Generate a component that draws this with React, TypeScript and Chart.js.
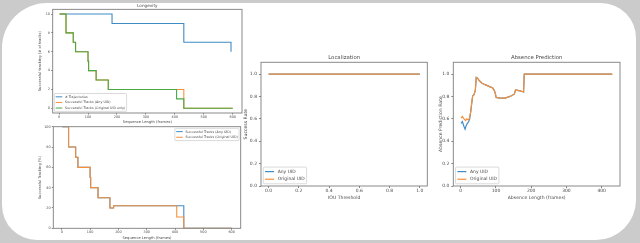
import React, { useEffect, useRef } from 'react';
import { Chart, registerables } from 'chart.js';

Chart.register(...registerables);

// ---------- Longevity (number of tracks) ----------
const trajX = [2, 183, 431, 594];
const trajY = [10, 9, 7, 6];
const anyCountX = [2, 24, 49, 57, 100, 102, 128, 170, 431, 600];
const anyCountY = [10, 8, 7, 6, 5, 4, 3, 2, 0, 0];
const origCountX = [2, 24, 49, 57, 100, 102, 128, 170, 406, 431, 600];
const origCountY = [10, 8, 7, 6, 5, 4, 3, 2, 1, 0, 0];
const seqXTicks = [0, 100, 200, 300, 400, 500, 600];
const countYTicks = [0, 2, 4, 6, 8, 10];

// ---------- Successful tracking (%) ----------
const anyPctX = [2, 24, 49, 57, 100, 102, 128, 170, 183, 431, 600];
const anyPctY = [100, 80, 70, 60, 50, 40, 30, 20, 22.2, 0, 0];
const origPctX = [2, 24, 49, 57, 100, 102, 128, 170, 183, 406, 431, 600];
const origPctY = [100, 80, 70, 60, 50, 40, 30, 20, 22.2, 11.1, 0, 0];
const pctYTicks = [0, 20, 40, 60, 80, 100];

// ---------- Localization ----------
const iouThresholds = [0.0, 0.1, 0.2, 0.3, 0.4, 0.5, 0.6, 0.7, 0.8, 0.9, 1.0];
const locAnyRate = [1.0, 1.0, 1.0, 1.0, 1.0, 1.0, 1.0, 1.0, 1.0, 1.0, 1.0];
const locOrigRate = [1.0, 1.0, 1.0, 1.0, 1.0, 1.0, 1.0, 1.0, 1.0, 1.0, 1.0];
const iouXTicks = [0.0, 0.2, 0.4, 0.6, 0.8, 1.0];
const rateYTicks = [0.0, 0.2, 0.4, 0.6, 0.8, 1.0];

// ---------- Absence Prediction ----------
const absOrigX = [1, 4.7, 9.4, 14, 17, 21.7, 24.6, 28.5, 31.3, 34, 38, 41.7, 44, 47.4, 53, 59.7, 69.2, 83.5, 91, 95.8, 98.7, 100.6, 112, 126, 140, 152, 155.6, 169, 178.4, 180.3, 430];
const absOrigY = [0.606, 0.62, 0.6, 0.585, 0.6, 0.59, 0.605, 0.665, 0.74, 0.805, 0.815, 0.86, 0.97, 0.965, 0.94, 0.92, 0.905, 0.885, 0.875, 0.85, 0.82, 0.79, 0.785, 0.785, 0.8, 0.82, 0.857, 0.85, 0.84, 1.0, 1.0];
const absAnyX = [1, 4.7, 9.4, 12.3, 15.1, 18.9, 22.7, 25.5, 28.5, 31.3, 34, 38, 41.7, 44, 47.4, 53, 59.7, 69.2, 83.5, 91, 95.8, 98.7, 100.6, 112, 126, 140, 152, 155.6, 169, 178.4, 180.3, 430];
const absAnyY = [0.56, 0.576, 0.53, 0.508, 0.537, 0.56, 0.576, 0.6, 0.665, 0.74, 0.805, 0.815, 0.86, 0.97, 0.965, 0.94, 0.92, 0.905, 0.885, 0.875, 0.85, 0.82, 0.79, 0.785, 0.785, 0.8, 0.82, 0.857, 0.85, 0.84, 1.0, 1.0];
const absXTicks = [0, 100, 200, 300, 400];

const BLUE = '#3f8bc4';
const ORANGE = '#f78f3a';
const GREEN = '#48aa44';
const TXT = '#4a4a4a';
const FONT = '"DejaVu Sans", sans-serif';
const W = 640;
const H = 243;

const pts = (xs: number[], ys: number[]) => xs.map((x, i) => ({ x, y: ys[i] }));

const framePlugin = {
  id: 'frame',
  afterDatasetsDraw(chart: any) {
    const { ctx, chartArea: a } = chart;
    ctx.save();
    ctx.strokeStyle = '#7d7d7d';
    ctx.lineWidth = 0.9;
    ctx.strokeRect(a.left, a.top, a.right - a.left, a.bottom - a.top);
    ctx.restore();
  },
};

const mplLegendPlugin = {
  id: 'mplLegend',
  afterDraw(chart: any, _args: any, opts: any) {
    if (!opts || !opts.loc) return;
    const { ctx, chartArea: a } = chart;
    const fs = opts.fontSize;
    ctx.save();
    ctx.font = `${fs}px ${FONT}`;
    const items = chart.data.datasets.map((d: any) => ({ label: d.label, color: d.borderColor }));
    const pad = 0.4 * fs;
    const handle = 2 * fs;
    const gap = 0.8 * fs;
    const rowH = 1.2 * fs;
    const spacing = 0.5 * fs;
    const axpad = 0.5 * fs;
    const textW = Math.max(...items.map((i: any) => ctx.measureText(i.label).width));
    const w = pad * 2 + handle + gap + textW;
    const h = pad * 2 + items.length * rowH + (items.length - 1) * spacing;
    const x = opts.loc.includes('left') ? a.left + axpad : a.right - axpad - w;
    const y = opts.loc.includes('lower') ? a.bottom - axpad - h : a.top + axpad;
    const r = 0.2 * fs;
    ctx.beginPath();
    ctx.moveTo(x + r, y);
    ctx.arcTo(x + w, y, x + w, y + h, r);
    ctx.arcTo(x + w, y + h, x, y + h, r);
    ctx.arcTo(x, y + h, x, y, r);
    ctx.arcTo(x, y, x + w, y, r);
    ctx.closePath();
    ctx.fillStyle = 'rgba(255,255,255,0.8)';
    ctx.fill();
    ctx.strokeStyle = '#cccccc';
    ctx.lineWidth = 0.7;
    ctx.stroke();
    items.forEach((it: any, i: number) => {
      const cy = y + pad + i * (rowH + spacing) + rowH / 2;
      ctx.beginPath();
      ctx.strokeStyle = it.color;
      ctx.lineWidth = opts.lineWidth || 1;
      ctx.moveTo(x + pad, cy);
      ctx.lineTo(x + pad + handle, cy);
      ctx.stroke();
      ctx.fillStyle = TXT;
      ctx.textBaseline = 'middle';
      ctx.textAlign = 'left';
      ctx.fillText(it.label, x + pad + handle + gap, cy);
    });
    ctx.restore();
  },
};

function axis(o: {
  min: number; max: number; ticks: number[]; fmt: (v: number) => string; title: string;
  fs: number; tfs: number; size: number; tickLen: number; pad: number;
}) {
  return {
    type: 'linear',
    min: o.min,
    max: o.max,
    afterBuildTicks: (s: any) => {
      s.ticks = o.ticks.map((v) => ({ value: v }));
    },
    afterFit: (s: any) => {
      if (s.isHorizontal()) s.height = o.size;
      else s.width = o.size;
    },
    ticks: {
      autoSkip: false,
      maxRotation: 0,
      minRotation: 0,
      padding: o.pad,
      color: TXT,
      font: { family: FONT, size: o.fs },
      callback: (v: any) => o.fmt(Number(v)),
    },
    grid: {
      display: true,
      drawOnChartArea: false,
      drawTicks: true,
      tickLength: o.tickLen,
      tickColor: '#666666',
      tickWidth: 0.8,
    },
    border: { display: false },
    title: {
      display: true,
      text: o.title,
      color: TXT,
      font: { family: FONT, size: o.tfs },
      padding: 0,
    },
  };
}

function lineDs(label: string, data: any[], color: string, order: number, stepped: boolean, bw: number) {
  return {
    label,
    data,
    borderColor: color,
    backgroundColor: color,
    borderWidth: bw,
    pointRadius: 0,
    tension: 0,
    fill: false,
    stepped,
    order,
  };
}

function baseOptions(padding: any, scales: any, title: any, legend: any) {
  return {
    animation: false,
    responsive: false,
    maintainAspectRatio: false,
    events: [],
    layout: { padding },
    scales,
    plugins: {
      legend: { display: false },
      tooltip: { enabled: false },
      title: title
        ? {
            display: true,
            text: title.text,
            fullSize: false,
            color: TXT,
            font: { family: FONT, size: title.size, weight: 'normal' },
            padding: { top: 0, bottom: title.bottom },
          }
        : { display: false },
      mplLegend: legend,
    },
  };
}

const intFmt = (v: number) => String(Math.round(v));
const oneDec = (v: number) => v.toFixed(1);

function longevityConfig() {
  return {
    type: 'line',
    data: {
      datasets: [
        lineDs('# Trajectories', pts(trajX, trajY), BLUE, 3, true, 1.1),
        lineDs('Successful Tracks (Any UID)', pts(anyCountX, anyCountY), ORANGE, 2, true, 1.1),
        lineDs('Successful Tracks (Original UID only)', pts(origCountX, origCountY), GREEN, 1, true, 1.1),
      ],
    },
    options: baseOptions(
      { left: 37.8, top: 3.5, right: W - 242, bottom: H - 123.9 },
      {
        x: axis({ min: -22, max: 632, ticks: seqXTicks, fmt: intFmt, title: 'Sequence Length (frames)', fs: 3.4, tfs: 3.7, size: 10.9, tickLen: 1.5, pad: 0.7 }),
        y: axis({ min: -0.5, max: 10.5, ticks: countYTicks, fmt: intFmt, title: 'Successful tracking (# of tracks)', fs: 3.4, tfs: 3.7, size: 14.9, tickLen: 1.5, pad: 1.2 }),
      },
      { text: 'Longevity', size: 4.2, bottom: 0.8 },
      { loc: 'lower left', fontSize: 3.3, lineWidth: 1 }
    ),
    plugins: [framePlugin, mplLegendPlugin],
  };
}

function percentConfig() {
  return {
    type: 'line',
    data: {
      datasets: [
        lineDs('Successful Tracks (Any UID)', pts(anyPctX, anyPctY), BLUE, 2, true, 1.1),
        lineDs('Successful Tracks (Original UID)', pts(origPctX, origPctY), ORANGE, 1, true, 1.1),
      ],
    },
    options: baseOptions(
      { left: 37.8, top: 126.7, right: W - 240.7, bottom: H - 239.9 },
      {
        x: axis({ min: -30, max: 632, ticks: seqXTicks, fmt: intFmt, title: 'Sequence Length (frames)', fs: 3.4, tfs: 3.7, size: 11.6, tickLen: 1.5, pad: 0.5 }),
        y: axis({ min: 0, max: 100, ticks: pctYTicks, fmt: intFmt, title: 'Successful Tracking (%)', fs: 3.4, tfs: 3.7, size: 15.5, tickLen: 1.5, pad: 1.2 }),
      },
      null,
      { loc: 'upper right', fontSize: 3.3, lineWidth: 1 }
    ),
    plugins: [framePlugin, mplLegendPlugin],
  };
}

function localizationConfig() {
  return {
    type: 'line',
    data: {
      datasets: [
        lineDs('Any UID', pts(iouThresholds, locAnyRate), BLUE, 2, false, 1.2),
        lineDs('Original UID', pts(iouThresholds, locOrigRate), ORANGE, 1, false, 1.2),
      ],
    },
    options: baseOptions(
      { left: 243.2, top: 54.5, right: W - 427.3, bottom: H - 200.5 },
      {
        x: axis({ min: -0.05, max: 1.05, ticks: iouXTicks, fmt: oneDec, title: 'IOU Threshold', fs: 4.5, tfs: 4.6, size: 14.5, tickLen: 2, pad: 0.4 }),
        y: axis({ min: 0, max: 1.105, ticks: rateYTicks, fmt: oneDec, title: 'Success Rate', fs: 4.5, tfs: 4.6, size: 17.8, tickLen: 2, pad: 2 }),
      },
      { text: 'Localization', size: 5.4, bottom: 1.3 },
      { loc: 'lower left', fontSize: 4.5, lineWidth: 1.2 }
    ),
    plugins: [framePlugin, mplLegendPlugin],
  };
}

function absenceConfig() {
  return {
    type: 'line',
    data: {
      datasets: [
        lineDs('Any UID', pts(absAnyX, absAnyY), BLUE, 2, false, 1.2),
        lineDs('Original UID', pts(absOrigX, absOrigY), ORANGE, 1, false, 1.2),
      ],
    },
    options: baseOptions(
      { left: 437.9, top: 54.5, right: W - 620, bottom: H - 200.5 },
      {
        x: axis({ min: -21, max: 452, ticks: absXTicks, fmt: intFmt, title: 'Absence Length (frames)', fs: 4.5, tfs: 4.6, size: 14.5, tickLen: 2, pad: 0.4 }),
        y: axis({ min: 0, max: 1.105, ticks: rateYTicks, fmt: oneDec, title: 'Absence Prediction Rate', fs: 4.5, tfs: 4.6, size: 15.4, tickLen: 2, pad: 2 }),
      },
      { text: 'Absence Prediction', size: 5.4, bottom: 1.3 },
      { loc: 'lower left', fontSize: 4.5, lineWidth: 1.2 }
    ),
    plugins: [framePlugin, mplLegendPlugin],
  };
}

function ChartLayer({ make }: { make: () => any }) {
  const ref = useRef<HTMLCanvasElement | null>(null);
  useEffect(() => {
    if (!ref.current) return;
    const chart = new Chart(ref.current, make());
    return () => chart.destroy();
  }, [make]);
  return (
    <canvas
      ref={ref}
      width={W}
      height={H}
      style={{ position: 'absolute', left: 0, top: 0, width: W, height: H }}
    />
  );
}

export default function App() {
  return (
    <div
      style={{
        position: 'absolute',
        left: 0,
        top: 0,
        width: W,
        height: H,
        background: '#cbcbcb',
        overflow: 'hidden',
      }}
    >
      <div
        style={{
          position: 'absolute',
          left: 2,
          top: 3,
          width: 634,
          height: 237,
          background: '#ffffff',
          borderRadius: '45px 35px 40px 35px',
        }}
      />
      <ChartLayer make={longevityConfig} />
      <ChartLayer make={percentConfig} />
      <ChartLayer make={localizationConfig} />
      <ChartLayer make={absenceConfig} />
    </div>
  );
}
